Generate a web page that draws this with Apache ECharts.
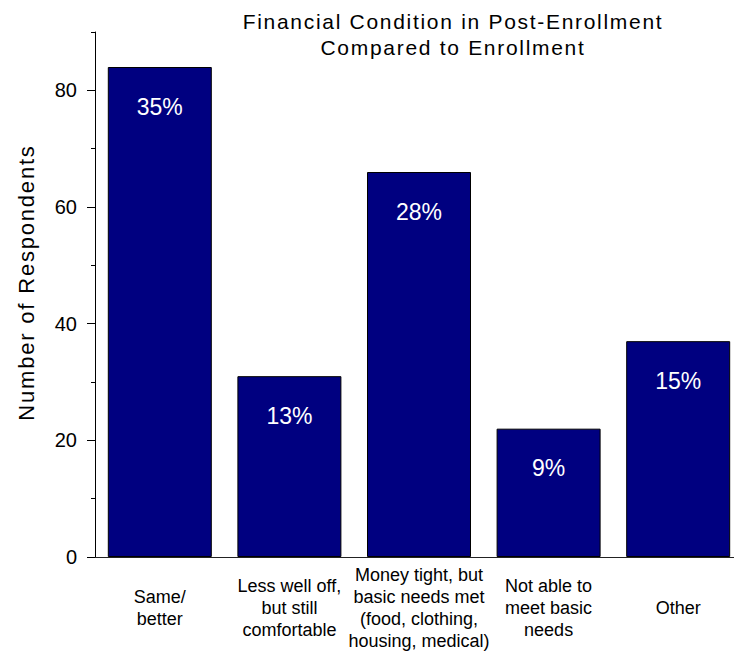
<!DOCTYPE html>
<html>
<head>
<meta charset="utf-8">
<script src="https://cdn.jsdelivr.net/npm/echarts@6/dist/echarts.min.js"></script>
<style>
  html, body { margin: 0; padding: 0; background: #fff; }
  #chart { width: 734px; height: 652px; }
  /* looser tracking for the title (21px) and the axis name (22px) */
  #chart text[style*="21px"] { letter-spacing: 1.7px; }
  #chart text[style*="22px"] { letter-spacing: 1.8px; }
</style>
</head>
<body>
<div id="chart"></div>
<script>
// Survey responses: financial condition after enrollment
const categories = [
  'Same/\nbetter',
  'Less well off,\nbut still\ncomfortable',
  'Money tight, but\nbasic needs met\n(food, clothing,\nhousing, medical)',
  'Not able to\nmeet basic\nneeds',
  'Other'
];
const respondents = [84, 31, 66, 22, 37];
const majorTicks = [0, 20, 40, 60, 80];
const minorTicks = [10, 30, 50, 70, 90];

const total = respondents.reduce((a, b) => a + b, 0);
const FONT = '"Liberation Sans", Arial, sans-serif';

const chart = echarts.init(document.getElementById('chart'), null, { renderer: 'svg' });

chart.setOption({
  backgroundColor: '#ffffff',
  animation: false,
  title: {
    text: 'Financial Condition in Post-Enrollment\nCompared to Enrollment',
    left: 448,
    top: 3,
    textAlign: 'center',
    textStyle: {
      fontFamily: FONT,
      fontSize: 21,
      fontWeight: 'normal',
      color: '#000',
      lineHeight: 26
    }
  },
  grid: { left: 95, right: -9, top: 32, bottom: 95, outerBoundsMode: 'none' },
  xAxis: {
    type: 'category',
    data: categories,
    axisLine: { show: true, lineStyle: { color: '#222', width: 1 } },
    axisTick: { show: false },
    axisLabel: {
      interval: 0,
      margin: 51,
      verticalAlign: 'middle',
      fontFamily: FONT,
      fontSize: 18,
      lineHeight: 22,
      color: '#000'
    },
    splitLine: { show: false }
  },
  yAxis: [
    {
      type: 'value',
      min: 0,
      max: 90,
      name: 'Number of Respondents',
      nameLocation: 'middle',
      nameGap: 58,
      nameTextStyle: {
        fontFamily: FONT,
        fontSize: 22,
        color: '#000',
        padding: [0, 0, 0, 24]
      },
      axisLine: { show: true, onZero: false, lineStyle: { color: '#000', width: 1 } },
      axisTick: { show: true, length: 8, lineStyle: { color: '#000' }, customValues: majorTicks },
      axisLabel: {
        customValues: majorTicks,
        margin: 18,
        fontFamily: FONT,
        fontSize: 20,
        color: '#000'
      },
      splitLine: { show: false }
    },
    {
      type: 'value',
      min: 0,
      max: 90,
      position: 'left',
      axisLine: { show: false },
      axisTick: { show: true, length: 4, lineStyle: { color: '#000' }, customValues: minorTicks },
      axisLabel: { show: false },
      splitLine: { show: false }
    }
  ],
  series: [
    {
      type: 'bar',
      data: respondents,
      barWidth: 104,
      itemStyle: { color: '#000080', borderColor: '#000', borderWidth: 1 },
      label: {
        show: true,
        position: 'insideTop',
        distance: 28,
        formatter: p => Math.round(p.value / total * 100) + '%',
        fontFamily: FONT,
        fontSize: 23,
        color: '#fff'
      }
    }
  ]
});
</script>
</body>
</html>
